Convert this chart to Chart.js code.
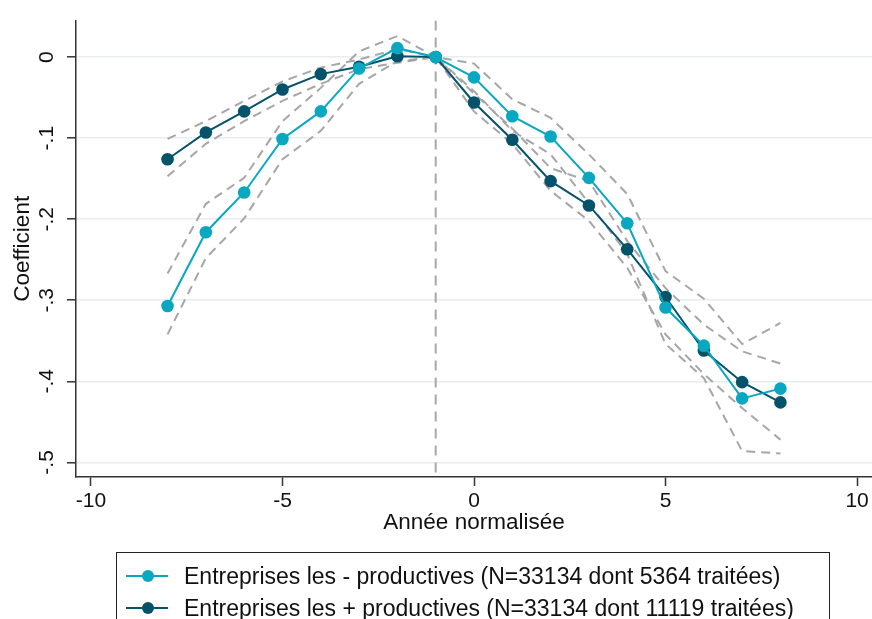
<!DOCTYPE html>
<html>
<head>
<meta charset="utf-8">
<script src="https://cdn.jsdelivr.net/npm/chart.js@4/dist/chart.umd.min.js"></script>
<style>
  html, body { margin: 0; padding: 0; background: #fff; }
  #wrap { position: relative; width: 872px; height: 619px; overflow: hidden; }
  #legend {
    position: absolute; left: 116px; top: 552px; width: 714px; height: 100px;
    border: 1px solid #222; box-sizing: border-box;
    font-family: 'Liberation Sans', Arial, sans-serif; font-size: 23px; color: #111;
  }
  .row { position: absolute; left: 0; height: 30px; width: 100%; }
  .row .ln { position: absolute; left: 9px; width: 42px; height: 2px; top: 14px; }
  .row .dot { position: absolute; left: 25px; width: 12px; height: 12px; top: 9px; border-radius: 50%; }
  .row .txt { position: absolute; left: 67px; top: 0; line-height: 30px; white-space: nowrap; }
</style>
</head>
<body>
<div id="wrap">
  <canvas id="chart" width="872" height="619"></canvas>
  <div id="legend"></div>
</div>
<script>
// années relatives
const years = [-8, -7, -6, -5, -4, -3, -2, -1, 0, 1, 2, 3, 4, 5, 6, 7, 8];

// entreprises les - productives
const moinsCoef = [-0.307, -0.216, -0.167, -0.101, -0.067, -0.014, 0.011, 0, -0.025, -0.073, -0.098, -0.149, -0.205, -0.309, -0.356, -0.421, -0.409];
const moinsHaut = [-0.267, -0.181, -0.149, -0.079, -0.038, 0.007, 0.026, 0, -0.008, -0.052, -0.075, -0.120, -0.169, -0.264, -0.298, -0.354, -0.328];
const moinsBas = [-0.342, -0.248, -0.199, -0.126, -0.091, -0.033, -0.005, 0, -0.042, -0.091, -0.120, -0.180, -0.243, -0.354, -0.396, -0.486, -0.489];

// entreprises les + productives
const plusCoef = [-0.126, -0.093, -0.067, -0.040, -0.021, -0.012, 0.001, 0, -0.056, -0.102, -0.153, -0.183, -0.237, -0.296, -0.362, -0.401, -0.426];
const plusHaut = [-0.101, -0.079, -0.054, -0.030, -0.013, -0.003, 0.010, 0, -0.045, -0.088, -0.137, -0.153, -0.227, -0.285, -0.330, -0.363, -0.378];
const plusBas = [-0.147, -0.107, -0.079, -0.054, -0.033, -0.015, -0.007, 0, -0.067, -0.107, -0.165, -0.202, -0.260, -0.342, -0.391, -0.433, -0.472];

const labels = [
  'Entreprises les - productives (N=33134 dont 5364 traitées)',
  'Entreprises les + productives (N=33134 dont 11119 traitées)'
];

const refYear = -1;
const xMin = -10.39, xMax = 10.39;
const yMin = -0.518, yMax = 0.045;

const cyan = '#0aa7c1';
const dark = '#04536b';
const ciGray = '#a6a6a6';

const pts = (vals) => years.map((x, i) => ({ x: x, y: vals[i] }));

function ci(vals) {
  return {
    data: pts(vals),
    showLine: true,
    borderColor: ciGray,
    borderWidth: 2,
    borderDash: [9, 6],
    pointRadius: 0,
    fill: false,
    order: 3
  };
}

function serie(vals, color, label) {
  return {
    label: label,
    data: pts(vals),
    showLine: true,
    borderColor: color,
    backgroundColor: color,
    borderWidth: 2,
    pointRadius: 6.3,
    pointBackgroundColor: color,
    pointBorderWidth: 0,
    fill: false,
    order: 1
  };
}

Chart.defaults.font.family = "'Liberation Sans', Arial, sans-serif";
Chart.defaults.color = '#111';

const ctx = document.getElementById('chart').getContext('2d');
new Chart(ctx, {
  type: 'scatter',
  data: {
    datasets: [
      {
        data: [{ x: refYear, y: yMax }, { x: refYear, y: yMin }],
        showLine: true,
        borderColor: '#a8a8a8',
        borderWidth: 2,
        borderDash: [10, 7],
        pointRadius: 0,
        order: 4
      },
      ci(moinsHaut), ci(moinsBas), ci(plusHaut), ci(plusBas),
      serie(moinsCoef, cyan, labels[0]),
      serie(plusCoef, dark, labels[1])
    ]
  },
  options: {
    responsive: false,
    animation: false,
    layout: { autoPadding: false, padding: { top: 20, right: 0, bottom: 0, left: 0 } },
    plugins: { legend: { display: false }, tooltip: { enabled: false } },
    scales: {
      x: {
        type: 'linear',
        min: xMin, max: xMax,
        afterFit: (s) => { s.height = 142; s.paddingLeft = 0; s.paddingRight = 0; },
        ticks: {
          stepSize: 5, includeBounds: false, padding: 3,
          font: { size: 21 }, color: '#111',
          callback: (v) => String(v)
        },
        grid: { drawOnChartArea: false, drawTicks: true, tickLength: 9, tickColor: '#333', tickWidth: 1.5 },
        border: { color: '#333', width: 1.5 },
        title: { display: true, text: 'Année normalisée', font: { size: 22.5 }, color: '#111', padding: { top: 0, bottom: 83 } }
      },
      y: {
        type: 'linear',
        min: yMin, max: yMax,
        afterFit: (s) => { s.width = 76; },
        ticks: {
          stepSize: 0.1, includeBounds: false, padding: 8,
          minRotation: 90, maxRotation: 90, crossAlign: 'center',
          font: { size: 21 }, color: '#111',
          callback: (v) => Math.abs(v) < 1e-9 ? '0' : Number(v).toFixed(1).replace('0.', '.')
        },
        grid: { color: '#e7eef2', lineWidth: 1.6, tickLength: 9, tickColor: '#333', tickWidth: 1.5 },
        border: { color: '#333', width: 1.5 },
        title: { display: true, text: 'Coefficient', font: { size: 22.5 }, color: '#111', padding: { top: 9, bottom: 0 } }
      }
    }
  }
});

// légende encadrée
const legend = document.getElementById('legend');
[[labels[0], cyan, 8], [labels[1], dark, 40]].forEach(([txt, col, top]) => {
  const row = document.createElement('div');
  row.className = 'row';
  row.style.top = top + 'px';
  row.innerHTML = '<span class="ln" style="background:' + col + '"></span>' +
    '<span class="dot" style="background:' + col + '"></span>' +
    '<span class="txt"></span>';
  row.querySelector('.txt').textContent = txt;
  legend.appendChild(row);
});
</script>
</body>
</html>
